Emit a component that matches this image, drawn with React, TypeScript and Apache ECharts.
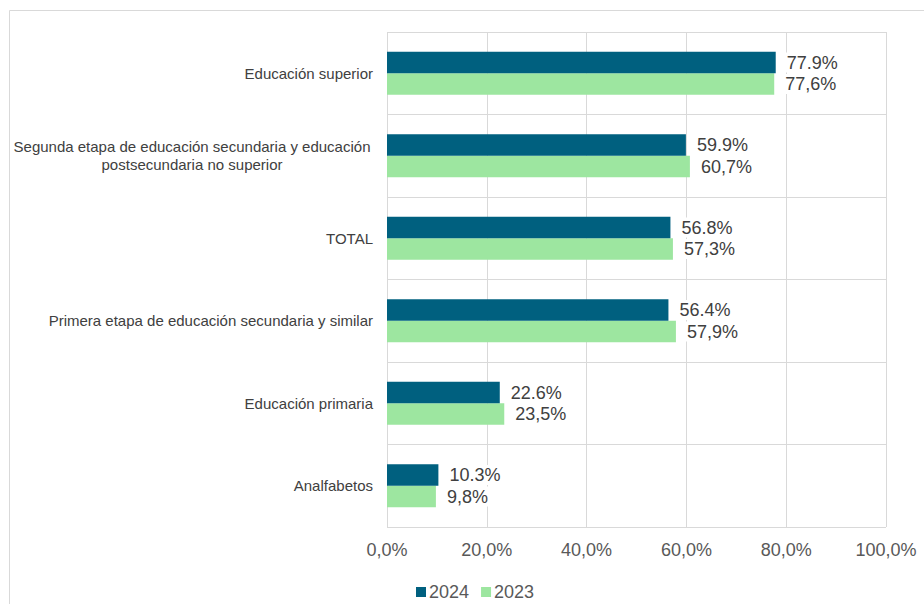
import React, { useEffect, useRef } from "react";
import * as echarts from "echarts";

const categories = [
  "Analfabetos",
  "Educación primaria",
  "Primera etapa de educación secundaria y similar",
  "TOTAL",
  "Segunda etapa de educación secundaria y educación postsecundaria no superior",
  "Educación superior",
];
const values2024 = [10.3, 22.6, 56.4, 56.8, 59.9, 77.9];
const values2023 = [9.8, 23.5, 57.9, 57.3, 60.7, 77.6];
const seriesNames = ["2024", "2023"];
const xTicks = [0, 20, 40, 60, 80, 100];

const LONG_LABEL = categories[4];

export default function App() {
  const ref = useRef<HTMLDivElement>(null);
  useEffect(() => {
    if (!ref.current) return;
    const chart = echarts.init(ref.current, null, { renderer: "svg" });
    const labelStyle = {
      show: true,
      position: "right",
      distance: 9,
      fontSize: 18,
      color: "#404040",
      fontFamily: "Liberation Sans, Arial, sans-serif",
      backgroundColor: "#ffffff",
      padding: [1, 2],
    };
    chart.setOption({
      animation: false,
      textStyle: { fontFamily: "Liberation Sans, Arial, sans-serif" },
      grid: { left: 387, right: 38, top: 32, bottom: 77, containLabel: false },
      graphic: [
        {
          type: "rect",
          shape: { x: 9.5, y: 10.5, width: 1200, height: 1200 },
          style: { fill: "none", stroke: "#d9d9d9", lineWidth: 1 },
          silent: true,
          z: -10,
        },
      ],
      legend: {
        data: seriesNames,
        left: 411,
        top: 578,
        itemWidth: 10,
        itemHeight: 10,
        itemGap: 12,
        icon: "rect",
        textStyle: { fontSize: 18, color: "#595959", padding: [0, 0, 0, -2] },
      },
      xAxis: {
        type: "value",
        min: xTicks[0],
        max: xTicks[xTicks.length - 1],
        interval: 20,
        axisLine: { show: false },
        axisTick: { show: false },
        splitLine: { show: true, lineStyle: { color: "#d9d9d9", width: 1 } },
        axisLabel: {
          margin: 14,
          fontSize: 18,
          color: "#595959",
          formatter: (v: number) => v.toFixed(1).replace(".", ",") + "%",
        },
      },
      yAxis: {
        type: "category",
        data: categories,
        axisLine: { show: false },
        axisTick: { show: false },
        splitLine: { show: true, lineStyle: { color: "#d9d9d9", width: 1 } },
        axisLabel: {
          margin: 14,
          fontSize: 15,
          color: "#404040",
          lineHeight: 18,
          formatter: (v: string) => {
            if (v === LONG_LABEL) {
              return "{c|Segunda etapa de educación secundaria y educación}\n{c|postsecundaria no superior}";
            }
            return v;
          },
          rich: {
            c: {
              width: 362,
              align: "center",
              fontSize: 15,
              lineHeight: 18,
              color: "#404040",
            },
          },
        },
      },
      series: [
        {
          name: seriesNames[0],
          type: "bar",
          data: values2024,
          barWidth: 21.5,
          barGap: "0%",
          itemStyle: { color: "#00607f" },
          label: { ...labelStyle, formatter: (p: any) => p.value.toFixed(1) + "%" },
          z: 3,
        },
        {
          name: seriesNames[1],
          type: "bar",
          data: values2023,
          barWidth: 21.5,
          barGap: "0%",
          itemStyle: { color: "#9de6a0" },
          label: {
            ...labelStyle,
            formatter: (p: any) => p.value.toFixed(1).replace(".", ",") + "%",
          },
          z: 2,
        },
      ],
    });
    return () => chart.dispose();
  }, []);
  return (
    <div
      ref={ref}
      style={{ position: "absolute", left: 0, top: 0, width: 924, height: 604, background: "#fff" }}
    />
  );
}
